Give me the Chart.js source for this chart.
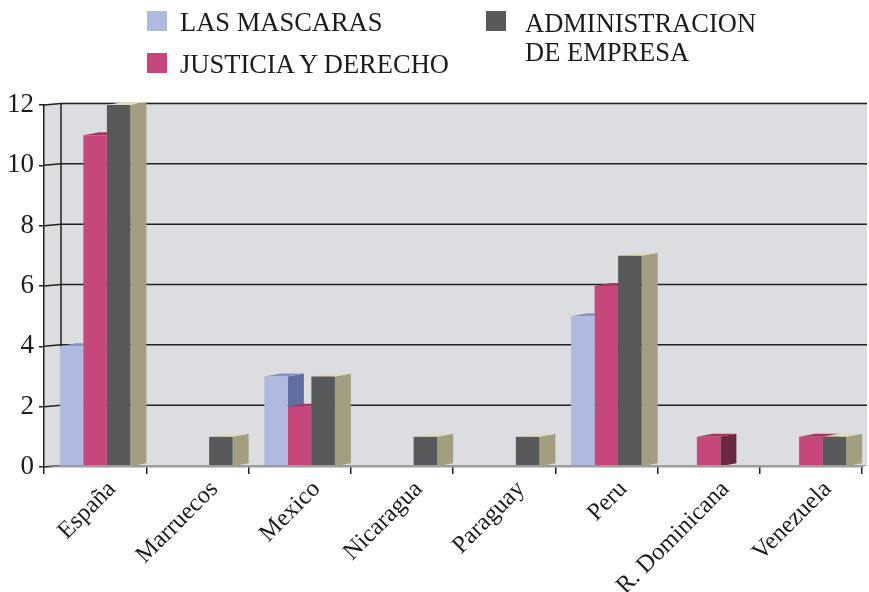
<!DOCTYPE html>
<html>
<head>
<meta charset="utf-8">
<script src="https://cdn.jsdelivr.net/npm/chart.js@4.4.0/dist/chart.umd.min.js"></script>
<style>
  html, body { margin: 0; padding: 0; background: #fff; }
  #wrap { position: relative; width: 869px; height: 592px; }
  #legend { position: absolute; left: 0; top: 0; font-family: "Liberation Serif", "Times New Roman", serif; color: #1f1b1c; }
  .sw { position: absolute; width: 20px; height: 20px; }
  .lbl { position: absolute; font-size: 26.5px; line-height: 29px; white-space: pre; }
</style>
</head>
<body>
<div id="wrap">
  <canvas id="chart"></canvas>
  <div id="legend"></div>
</div>
<script>
var categories = ['España', 'Marruecos', 'Mexico', 'Nicaragua', 'Paraguay', 'Peru', 'R. Dominicana', 'Venezuela'];
var seriesNames = ['LAS MASCARAS', 'JUSTICIA Y DERECHO', 'ADMINISTRACION\nDE EMPRESA'];
var lasMascaras = [4, 0, 3, 0, 0, 5, 0, 0];
var justicia = [11, 0, 2, 0, 0, 6, 1, 1];
var administracion = [12, 1, 3, 1, 1, 7, 0, 1];
var yTicks = [0, 2, 4, 6, 8, 10, 12];

var faces = [
  { front: '#aebadf', side: '#636ea2', top: '#8591cb' },
  { front: '#c6477c', side: '#69283f', top: '#a9345f' },
  { front: '#58595b', side: '#a39e7f', top: '#dedbbd' }
];

// depth of bars and of the walls
var DX = 16, DY = 3, WX = 17, WY = 1.5;

// legend (html, two columns like the original)
var legendPos = [
  { sx: 147, sy: 11, tx: 180, ty: 7.5 },
  { sx: 147, sy: 53, tx: 180, ty: 49.5 },
  { sx: 486, sy: 11, tx: 525, ty: 8.5 }
];
var legend = document.getElementById('legend');
seriesNames.forEach(function (name, i) {
  var p = legendPos[i];
  var sw = document.createElement('div');
  sw.className = 'sw';
  sw.style.left = p.sx + 'px';
  sw.style.top = p.sy + 'px';
  sw.style.background = faces[i].front;
  legend.appendChild(sw);
  var t = document.createElement('div');
  t.className = 'lbl';
  t.style.left = p.tx + 'px';
  t.style.top = p.ty + 'px';
  t.textContent = name;
  legend.appendChild(t);
});

function poly(ctx, pts, color) {
  ctx.beginPath();
  ctx.moveTo(pts[0][0], pts[0][1]);
  for (var k = 1; k < pts.length; k++) ctx.lineTo(pts[k][0], pts[k][1]);
  ctx.closePath();
  ctx.fillStyle = color;
  ctx.fill();
}

var box3d = {
  id: 'box3d',
  beforeDraw: function (chart) {
    var ctx = chart.ctx, a = chart.chartArea, ys = chart.scales.y;
    var wallRight = chart.width - 2;
    ctx.save();
    // back wall + left wall
    ctx.fillStyle = '#dcdde0';
    ctx.fillRect(a.left + WX, a.top - WY - 1, wallRight - a.left - WX, a.bottom - a.top + 1);
    poly(ctx, [[a.left, a.top], [a.left + WX, a.top - WY], [a.left + WX, a.bottom - WY], [a.left, a.bottom]], '#dcdde0');
    // grid lines
    ctx.lineWidth = 1.5;
    ctx.strokeStyle = '#231f20';
    yTicks.forEach(function (v) {
      var py = ys.getPixelForValue(v);
      ctx.beginPath();
      ctx.moveTo(a.left, py);
      ctx.lineTo(a.left + WX, py - WY);
      if (v > 0) ctx.lineTo(wallRight, py - WY);
      ctx.stroke();
    });
    ctx.beginPath();
    ctx.moveTo(a.left + WX, a.top - WY);
    ctx.lineTo(a.left + WX, a.bottom - WY);
    ctx.stroke();
    ctx.restore();
  },
  beforeDatasetsDraw: function (chart) {
    var ctx = chart.ctx;
    ctx.save();
    chart.data.datasets.forEach(function (ds, i) {
      var meta = chart.getDatasetMeta(i);
      meta.data.forEach(function (bar, j) {
        if (!ds.data[j]) return;
        var p = bar.getProps(['x', 'y', 'base', 'width'], true);
        var x0 = p.x - p.width / 2, x1 = p.x + p.width / 2;
        poly(ctx, [[x1, p.base], [x1 + DX, p.base - DY], [x1 + DX, p.y - DY], [x1, p.y]], faces[i].side);
        poly(ctx, [[x0, p.y], [x1, p.y], [x1 + DX, p.y - DY], [x0 + DX, p.y - DY]], faces[i].top);
      });
    });
    ctx.restore();
  },
  afterDatasetsDraw: function (chart) {
    var ctx = chart.ctx, a = chart.chartArea;
    ctx.save();
    poly(ctx, [[a.left, a.bottom + 0.5], [a.right, a.bottom + 0.5], [chart.width - 2, a.bottom - WY - 0.5], [a.left + WX, a.bottom - WY - 0.5]], '#9c9c9c');
    ctx.restore();
  }
};

var ctx = document.getElementById('chart').getContext('2d');
var chart = new Chart(ctx, {
  type: 'bar',
  data: {
    labels: categories,
    datasets: [
      { label: seriesNames[0], data: lasMascaras, backgroundColor: faces[0].front },
      { label: seriesNames[1], data: justicia, backgroundColor: faces[1].front },
      { label: seriesNames[2], data: administracion, backgroundColor: faces[2].front }
    ]
  },
  options: {
    responsive: true,
    maintainAspectRatio: false,
    animation: false,
    layout: { padding: { top: 105, right: 7, left: 0, bottom: 0 } },
    datasets: {
      bar: { categoryPercentage: 0.69, barPercentage: 1.0, borderWidth: 0 }
    },
    plugins: {
      legend: { display: false },
      tooltip: { enabled: false }
    },
    scales: {
      x: {
        grid: { offset: true, drawOnChartArea: false, tickLength: 7, color: '#231f20', lineWidth: 1.5 },
        border: { display: false },
        ticks: {
          minRotation: 45, maxRotation: 45, autoSkip: false,
          labelOffset: 17, padding: 1,
          color: '#1f1b1c',
          font: { family: 'Liberation Serif', size: 24.5 }
        },
        afterFit: function (scale) { scale.height = 125; }
      },
      y: {
        min: 0, max: 12,
        grid: { drawOnChartArea: false, tickLength: 5, color: '#231f20', lineWidth: 1.5 },
        border: { display: true, color: '#231f20', width: 1.5 },
        ticks: {
          stepSize: 2, padding: 5,
          color: '#1f1b1c',
          font: { family: 'Liberation Serif', size: 27 }
        },
        afterFit: function (scale) { scale.width = 44; }
      }
    }
  },
  plugins: [box3d]
});
</script>
</body>
</html>
